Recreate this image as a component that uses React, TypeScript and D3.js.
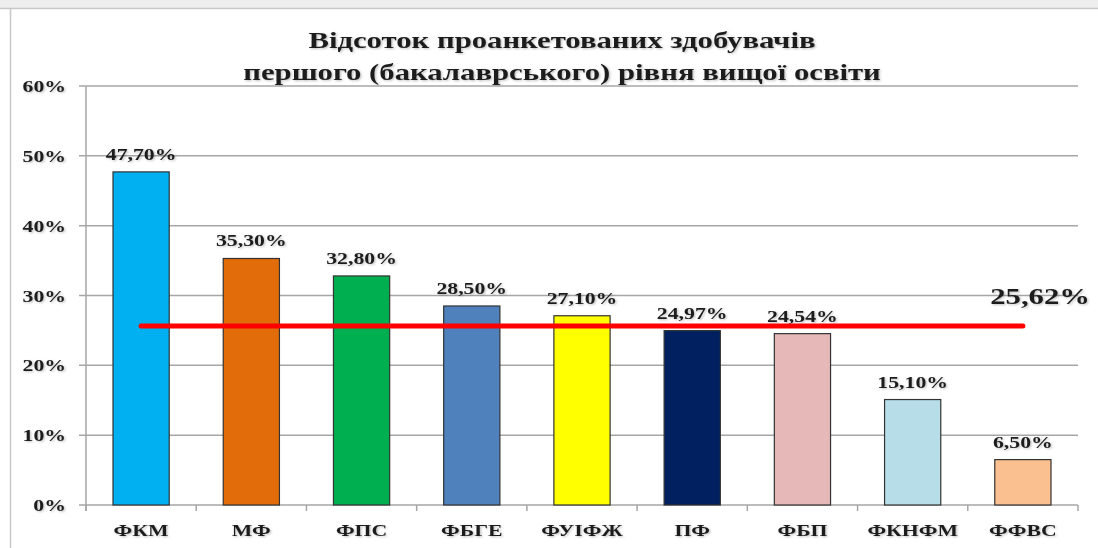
import React, { useEffect, useRef } from "react";
import * as d3 from "d3";

// Chart data
const categories = ["ФКМ", "МФ", "ФПС", "ФБГЕ", "ФУІФЖ", "ПФ", "ФБП", "ФКНФМ", "ФФВС"];
const values = [47.7, 35.3, 32.8, 28.5, 27.1, 24.97, 24.54, 15.1, 6.5];
const barColors = ["#00b0f0", "#e36c0a", "#00b050", "#4f81bd", "#ffff00", "#002060", "#e6b9b8", "#b7dee8", "#fac090"];
const yTicks = [0, 10, 20, 30, 40, 50, 60];
const averageValue = 25.62;
const titleLines = ["Відсоток проанкетованих  здобувачів", "першого (бакалаврського) рівня вищої освіти"];

const width = 1098;
const height = 548;
const marginLeft = 86;
const marginRight = 20;
const marginTop = 86;
const marginBottom = 43;
const font = "'Liberation Serif', 'Times New Roman', serif";
const textColor = "#1e1e1e";
const stretch = 1.28; // the original text is wider than it is tall

const fmt = (v: number) => v.toFixed(2).replace(".", ",") + "%";

const App: React.FC = () => {
  const svgRef = useRef<SVGSVGElement>(null);

  useEffect(() => {
    if (!svgRef.current) return;
    const svg = d3.select(svgRef.current);
    svg.selectAll("*").remove();

    const x = d3
      .scaleBand()
      .domain(categories)
      .range([marginLeft, width - marginRight])
      .paddingInner(0.49)
      .paddingOuter(0.245);

    const y = d3
      .scaleLinear()
      .domain([0, 60])
      .range([height - marginBottom, marginTop]);

    // Soft shadow for text, like the original
    const defs = svg.append("defs");
    const f = defs.append("filter").attr("id", "shadow").attr("x", "-10%").attr("y", "-10%").attr("width", "130%").attr("height", "140%");
    f.append("feDropShadow").attr("dx", 1).attr("dy", 1).attr("stdDeviation", 0.8).attr("flood-color", "#000").attr("flood-opacity", 0.25);

    // helper: horizontally stretched bold serif text
    const label = (
      g: d3.Selection<SVGGElement, unknown, null, undefined>,
      tx: number,
      ty: number,
      txt: string,
      size: number,
      anchor: string
    ) =>
      g
        .append("text")
        .attr("transform", `translate(${tx},${ty}) scale(${stretch},1)`)
        .attr("text-anchor", anchor)
        .attr("font-family", font)
        .attr("font-weight", "bold")
        .attr("font-size", size)
        .attr("fill", textColor)
        .attr("filter", "url(#shadow)")
        .text(txt);

    // Background and frame
    svg.append("rect").attr("width", width).attr("height", height).attr("fill", "#fff");
    svg.append("rect").attr("x", 0).attr("y", 0).attr("width", width).attr("height", 8).attr("fill", "#eeeeee");
    svg.append("line").attr("x1", 0).attr("x2", width).attr("y1", 8.5).attr("y2", 8.5).attr("stroke", "#c8c8c8").attr("stroke-width", 1.5);
    svg.append("line").attr("x1", 10.5).attr("x2", 10.5).attr("y1", 8).attr("y2", height).attr("stroke", "#c8c8c8").attr("stroke-width", 1.5);

    // Title
    const titleG = svg.append("g");
    titleLines.forEach((t, i) => label(titleG, 562, 48 + i * 32, t, 24, "middle"));

    // Y grid lines, axis and tick labels
    const gridG = svg.append("g");
    gridG
      .selectAll("line.grid")
      .data(yTicks)
      .join("line")
      .attr("class", "grid")
      .attr("x1", marginLeft - 7)
      .attr("x2", width - marginRight)
      .attr("y1", (d) => y(d))
      .attr("y2", (d) => y(d))
      .attr("stroke", "#a6a6a6")
      .attr("stroke-width", 1.5);
    gridG
      .append("line")
      .attr("x1", marginLeft)
      .attr("x2", marginLeft)
      .attr("y1", y(60))
      .attr("y2", y(0) + 6)
      .attr("stroke", "#a6a6a6")
      .attr("stroke-width", 1.5);

    const yLabG = svg.append("g");
    yTicks.forEach((t) => label(yLabG, marginLeft - 20, y(t) + 6, `${t}%`, 17, "end"));

    // X axis ticks between categories
    const boundaries = d3
      .range(categories.length + 1)
      .map((i) => marginLeft + i * ((width - marginRight - marginLeft) / categories.length));
    svg
      .append("g")
      .selectAll("line")
      .data(boundaries)
      .join("line")
      .attr("x1", (d) => d)
      .attr("x2", (d) => d)
      .attr("y1", y(0))
      .attr("y2", y(0) + 6)
      .attr("stroke", "#a6a6a6")
      .attr("stroke-width", 1.5);

    const xLabG = svg.append("g");
    categories.forEach((c) => label(xLabG, (x(c) || 0) + x.bandwidth() / 2, y(0) + 31, c, 17, "middle"));

    // Bars
    svg
      .append("g")
      .selectAll("rect")
      .data(values)
      .join("rect")
      .attr("x", (d, i) => x(categories[i]) || 0)
      .attr("y", (d) => y(d))
      .attr("width", x.bandwidth())
      .attr("height", (d) => y(0) - y(d))
      .attr("fill", (d, i) => barColors[i])
      .attr("stroke", "#333")
      .attr("stroke-width", 1.2);

    // Value labels
    const valG = svg.append("g");
    values.forEach((v, i) =>
      label(valG, (x(categories[i]) || 0) + x.bandwidth() / 2, y(v) - 12, fmt(v), 17, "middle")
    );

    // Average line
    const firstCenter = (x(categories[0]) || 0) + x.bandwidth() / 2;
    const lastCenter = (x(categories[categories.length - 1]) || 0) + x.bandwidth() / 2;
    svg
      .append("line")
      .attr("x1", firstCenter)
      .attr("x2", lastCenter)
      .attr("y1", y(averageValue))
      .attr("y2", y(averageValue))
      .attr("stroke", "#ff0000")
      .attr("stroke-width", 5)
      .attr("stroke-linecap", "round");

    label(svg as any, 1090, y(averageValue) - 22, fmt(averageValue), 24, "end");
  }, []);

  return (
    <svg
      ref={svgRef}
      width={width}
      height={height}
      style={{ position: "absolute", left: 0, top: 0, display: "block" }}
    />
  );
};

export default App;
